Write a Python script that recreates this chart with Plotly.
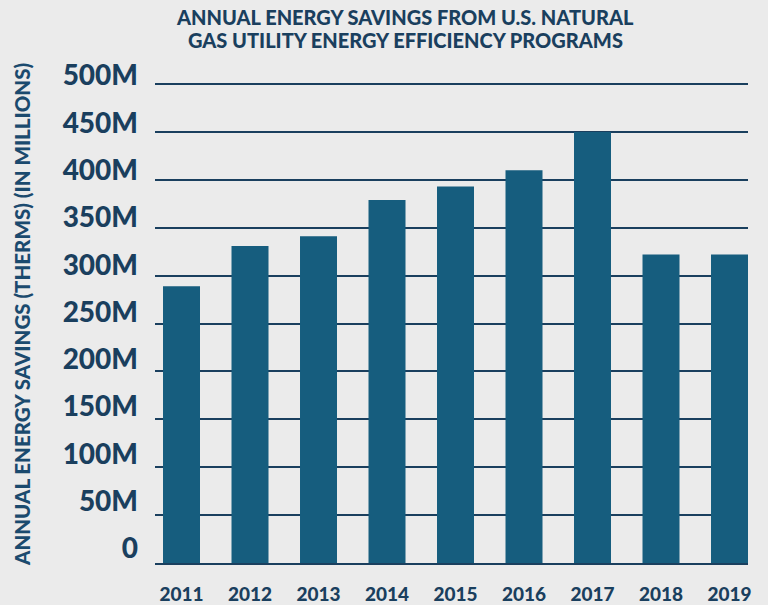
import plotly.graph_objects as go

years = ["2011", "2012", "2013", "2014", "2015", "2016", "2017", "2018", "2019"]
savings_m = [289, 331, 341, 379, 393, 410, 450, 322, 322]
tick_vals = [0, 50, 100, 150, 200, 250, 300, 350, 400, 450, 500]
tick_text = ["0", "50M", "100M", "150M", "200M", "250M", "300M", "350M", "400M", "450M", "500M"]

title_line1 = "ANNUAL ENERGY SAVINGS FROM U.S. NATURAL"
title_line2 = "GAS UTILITY ENERGY EFFICIENCY PROGRAMS"
y_title = "ANNUAL ENERGY SAVINGS (THERMS) (IN MILLIONS)"

BG = "#ebebeb"
BAR = "#165d7e"
DARK = "#1a3f5e"
FONT = "Lato"
WT = 900

L, R, T, B = 155, 20, 70, 42
W, H = 768, 605
pw, ph = W - L - R, H - T - B
zero_px = H - B            # 563
px_per_m = 0.958           # grid scale
lab_zero_px = 548.5        # label scale (labels sit above the grid lines)
lab_px_per_m = 0.946

y_top = (zero_px - T) / px_per_m
y2_lo = (lab_zero_px - zero_px) / lab_px_per_m
y2_hi = (lab_zero_px - T) / lab_px_per_m

fig = go.Figure()
fig.add_trace(go.Bar(x=years, y=savings_m, marker=dict(color=BAR, line=dict(width=0)),
                     hoverinfo="x+y"))
# invisible helper trace so the label axis is drawn
fig.add_trace(go.Scatter(x=years, y=savings_m, yaxis="y2", mode="lines",
                         line=dict(width=0, color="rgba(0,0,0,0)"), hoverinfo="skip",
                         showlegend=False))


def px_x(p):
    return (p - L) / pw


def px_y(p):
    return (H - B - p) / ph


fig.update_layout(
    width=W, height=H,
    paper_bgcolor=BG, plot_bgcolor=BG,
    margin=dict(l=L, r=R, t=T, b=B, autoexpand=False),
    showlegend=False,
    bargap=0.46,
    font=dict(family=FONT, color=DARK),
    xaxis=dict(
        type="category", range=[-0.387, 8.27], automargin=False,
        showgrid=False, zeroline=False,
        showline=True, linecolor=DARK, linewidth=2,
        ticks="", tickfont=dict(family=FONT, size=19, color=DARK, weight=WT),
        ticklabelstandoff=13,
    ),
    yaxis=dict(
        range=[0, y_top], tickvals=tick_vals, showticklabels=False, automargin=False,
        showgrid=True, gridcolor=DARK, gridwidth=2,
        zeroline=False, ticks="", fixedrange=True,
    ),
    yaxis2=dict(
        overlaying="y", side="left", range=[y2_lo, y2_hi], automargin=False,
        tickvals=tick_vals, ticktext=tick_text,
        showgrid=False, zeroline=False, ticks="", showline=False,
        tickfont=dict(family=FONT, size=28, color=DARK, weight=WT),
        ticklabelstandoff=16,
    ),
    annotations=[
        dict(text=title_line1, x=px_x(405), y=px_y(17.5), xref="paper", yref="paper",
             showarrow=False, xanchor="center", yanchor="middle",
             font=dict(family=FONT, size=20, color=DARK, weight=WT)),
        dict(text=title_line2, x=px_x(405), y=px_y(40.5), xref="paper", yref="paper",
             showarrow=False, xanchor="center", yanchor="middle",
             font=dict(family=FONT, size=20, color=DARK, weight=WT)),
        dict(text=y_title, x=px_x(22), y=px_y(315),
             xref="paper", yref="paper", showarrow=False, textangle=-90,
             xanchor="center", yanchor="middle",
             font=dict(family=FONT, size=20.5, color="#1b4a6e", weight=WT)),
    ],
)

fig.write_html(
    "out.html",
    config={"displayModeBar": False},
    post_script="document.body.style.margin='0';document.body.style.background='#ebebeb';document.body.style.overflow='hidden';",
)
